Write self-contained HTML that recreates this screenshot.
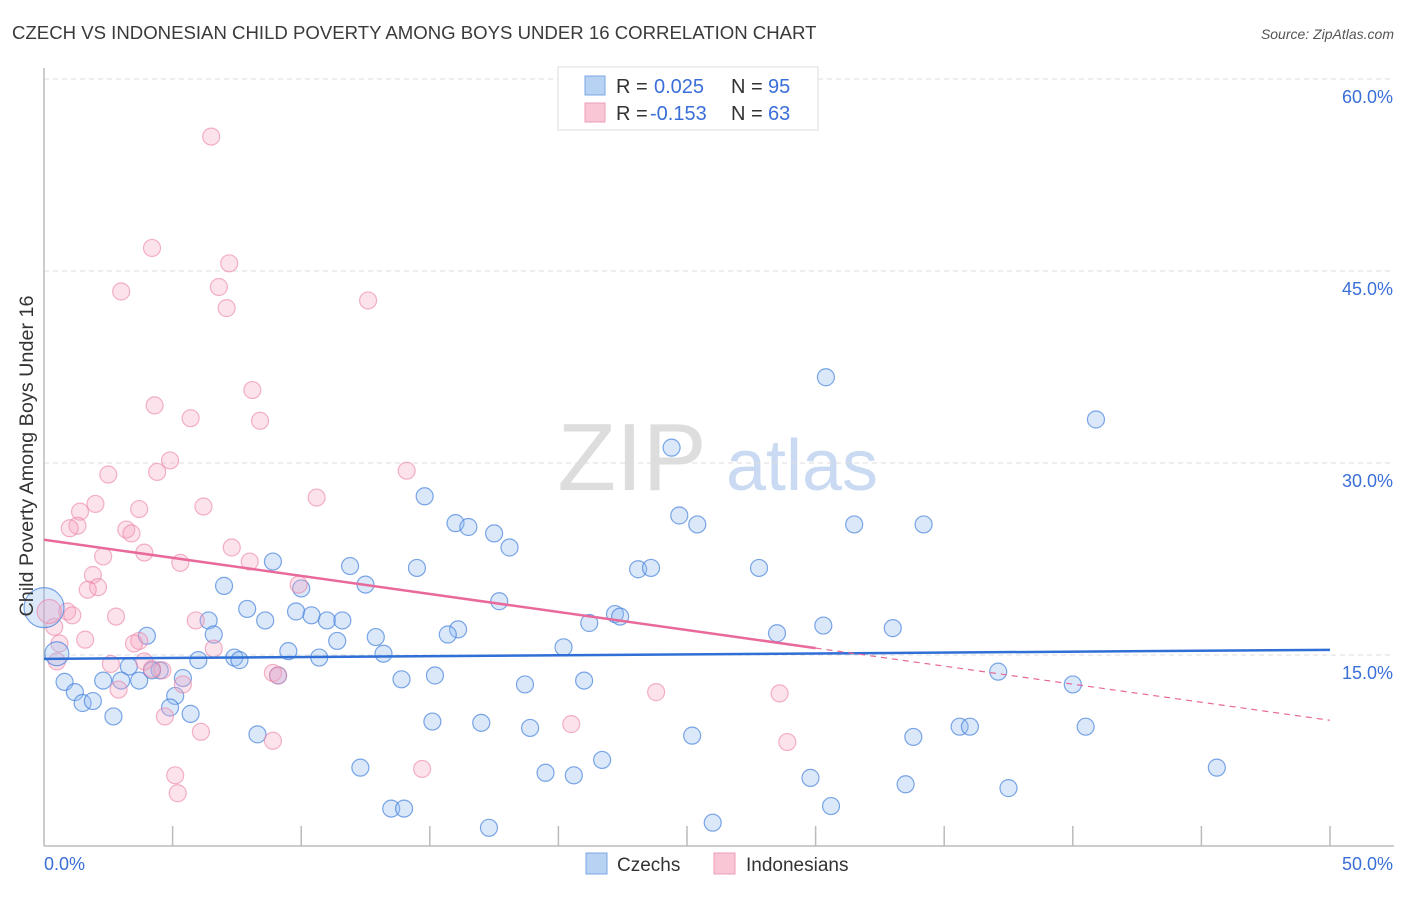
<!DOCTYPE html>
<html><head><meta charset="utf-8"><style>
body{margin:0;background:#fff;font-family:"Liberation Sans",sans-serif}
svg text{font-family:"Liberation Sans",sans-serif}
</style></head><body>
<svg id="c" width="1406" height="892">
<text x="12" y="39" font-size="18.6" fill="#3a3a3a">CZECH VS INDONESIAN CHILD POVERTY AMONG BOYS UNDER 16 CORRELATION CHART</text>
<text x="1394" y="39" font-size="14" fill="#555" font-style="italic" text-anchor="end">Source: ZipAtlas.com</text>
<g>
<text x="632" y="490" font-size="96" fill="#ddd" font-family="Liberation Serif,serif" text-anchor="middle">ZIP</text>
<text x="802" y="490" font-size="72" fill="#c9daf2" text-anchor="middle">atlas</text>
</g>
<g id="grid"></g><g id="axes"></g><g id="pts"></g><g id="trends"></g>
<text transform="translate(33,456) rotate(-90)" font-size="19.8" fill="#333" text-anchor="middle">Child Poverty Among Boys Under 16</text>
<g>
<rect x="558" y="67" width="260" height="63" fill="#fff" stroke="#ddd"/>
<rect x="585" y="76" width="20" height="19" fill="#b8d2f4" stroke="#7aa7e6"/>
<rect x="585" y="103" width="20" height="19" fill="#f8c6d5" stroke="#ee9cb8"/>
<text x="616" y="93" font-size="20" fill="#333">R = </text><text x="654" y="93" font-size="20" fill="#3a6fd8">0.025</text>
<text x="731" y="93" font-size="20" fill="#333">N = </text><text x="768" y="93" font-size="20" fill="#3a6fd8">95</text>
<text x="616" y="120" font-size="20" fill="#333">R = </text><text x="650" y="120" font-size="20" fill="#3a6fd8">-0.153</text>
<text x="731" y="120" font-size="20" fill="#333">N = </text><text x="768" y="120" font-size="20" fill="#3a6fd8">63</text>
</g>
<g>
<rect x="586" y="853" width="21" height="21" fill="#b8d2f4" stroke="#7aa7e6"/>
<text x="617" y="871" font-size="19" fill="#333">Czechs</text>
<rect x="714" y="853" width="21" height="21" fill="#f8c6d5" stroke="#ee9cb8"/>
<text x="746" y="871" font-size="19" fill="#333">Indonesians</text>
</g>
</svg>
<script>
const czX=[30.4,40.9,24.4,14.8,16.0,16.5,17.5,18.1,24.7,25.4,31.5,34.2,8.9,11.9,14.5,23.1,23.6,27.8,7.0,12.5,10.0,17.7,7.9,9.8,10.4,22.2,22.4,6.4,8.6,11.0,11.6,21.2,30.3,33.0,16.1,15.7,4.0,6.6,12.9,28.5,11.4,20.2,9.5,13.2,7.4,7.6,10.7,6.0,3.3,4.5,37.1,15.2,5.4,0.8,2.3,3.0,3.7,13.9,21.0,18.7,40.0,1.2,5.1,1.5,1.9,4.9,5.7,2.7,15.1,17.0,18.9,35.6,36.0,40.5,8.3,25.2,33.8,21.7,12.3,19.5,20.6,45.6,29.8,33.5,37.5,30.6,13.5,14.0,17.3,26.0,9.1,4.2];
const czY=[36.7,33.4,31.2,27.4,25.3,25.0,24.5,23.4,25.9,25.2,25.2,25.2,22.3,21.95,21.8,21.7,21.8,21.8,20.4,20.5,20.2,19.2,18.6,18.4,18.1,18.2,18.0,17.7,17.7,17.7,17.7,17.5,17.3,17.1,17.0,16.6,16.5,16.6,16.4,16.7,16.1,15.6,15.3,15.1,14.8,14.6,14.8,14.6,14.1,13.8,13.7,13.4,13.2,12.9,13.0,13.0,13.0,13.1,13.0,12.7,12.7,12.1,11.8,11.25,11.4,10.9,10.4,10.2,9.8,9.7,9.3,9.4,9.4,9.4,8.8,8.7,8.6,6.8,6.2,5.8,5.6,6.2,5.4,4.9,4.6,3.2,3.0,3.0,1.5,1.9,13.4,13.8];
const inX=[6.5,4.2,7.2,3.0,6.8,7.1,12.6,8.1,4.3,5.7,8.4,4.9,2.5,4.4,14.1,10.6,2.0,6.2,1.4,3.7,1.3,1.0,3.2,3.4,7.3,3.9,2.3,8.0,5.3,1.9,2.1,1.7,9.9,0.9,1.1,2.8,0.4,5.9,1.6,3.7,3.5,6.6,0.6,0.5,2.6,3.9,4.6,8.9,9.1,5.4,2.9,23.8,28.6,4.7,20.5,6.1,8.9,28.9,14.7,5.1,5.2,4.2];
const inY=[55.5,46.8,45.6,43.4,43.75,42.1,42.7,35.7,34.5,33.5,33.3,30.2,29.1,29.3,29.4,27.3,26.8,26.6,26.2,26.4,25.1,24.9,24.8,24.5,23.4,23.0,22.7,22.3,22.2,21.25,20.3,20.1,20.5,18.4,18.1,18.0,17.2,17.7,16.2,16.1,15.9,15.5,15.9,14.5,14.3,14.5,13.8,13.6,13.4,12.7,12.3,12.1,12.0,10.2,9.6,9.0,8.3,8.2,6.1,5.6,4.2,13.9];
const czTrend=[14.7,15.4];
const inTrendStart=24.0, inTrendEnd=9.9, inSolidEndX=30;
const yTicks=[15,30,45,60];
const X=v=>44+v*25.72, Y=v=>847-v*12.8;
const NS="http://www.w3.org/2000/svg";
function mk(p,t,a){const e=document.createElementNS(NS,t);for(const k in a)e.setAttribute(k,a[k]);p.appendChild(e);return e;}
const grid=document.getElementById('grid'),axes=document.getElementById('axes'),pts=document.getElementById('pts'),tr=document.getElementById('trends');
yTicks.forEach(t=>{
 const l=mk(grid,'line',{x1:44,x2:1394,y1:Y(t),y2:Y(t),stroke:'#ddd','stroke-dasharray':'5,4'});
 
 
 const tx=mk(grid,'text',{x:1393,y:Y(t)+24,'font-size':18,fill:'#3a6fd8','text-anchor':'end'});
 tx.textContent=t.toFixed(1)+'%';
 
 
});
mk(axes,'line',{x1:44,x2:44,y1:68,y2:846,stroke:'#bbb','stroke-width':1.5});
mk(axes,'line',{x1:44,x2:1394,y1:846,y2:846,stroke:'#bbb','stroke-width':1.5});
for(let i=1;i<=10;i++){mk(axes,'line',{x1:X(i*5),x2:X(i*5),y1:826,y2:846,stroke:'#bbb','stroke-width':1.5});}
let t0=mk(axes,'text',{x:44,y:870,'font-size':18,fill:'#3a6fd8'});t0.textContent='0.0%';


let t1=mk(axes,'text',{x:1393,y:870,'font-size':18,fill:'#3a6fd8','text-anchor':'end'});t1.textContent='50.0%';


function dot(x,y,r,c){
 const e=mk(pts,'circle',{cx:X(x),cy:Y(y),r:r,fill:c?'rgba(150,190,240,0.35)':'rgba(245,165,192,0.32)',stroke:c?'rgba(70,130,220,0.7)':'rgba(235,130,165,0.6)','stroke-width':1.2});
 return e;
}
czX.forEach((x,i)=>{const e=dot(x,czY[i],8.5,true);
 
 });
inX.forEach((x,i)=>{const e=dot(x,inY[i],8.5,false);
 
 });
let b1=dot(0,18.7,20,true);


let b2=dot(0.5,15.1,12,true);


let b3=dot(0.2,18.4,12,false);


let l1=mk(tr,'line',{x1:X(0),y1:Y(czTrend[0]),x2:X(50),y2:Y(czTrend[1]),stroke:'#2f6fd6','stroke-width':2.5});


const inAt=x=>inTrendStart+(inTrendEnd-inTrendStart)*x/50;
let l2=mk(tr,'line',{x1:X(0),y1:Y(inAt(0)),x2:X(inSolidEndX),y2:Y(inAt(inSolidEndX)),stroke:'#e8699a','stroke-width':2.5});


let l3=mk(tr,'line',{x1:X(inSolidEndX),y1:Y(inAt(inSolidEndX)),x2:X(50),y2:Y(inAt(50)),stroke:'#e8699a','stroke-width':1.2,'stroke-dasharray':'6,5'});


</script>
</body></html>
